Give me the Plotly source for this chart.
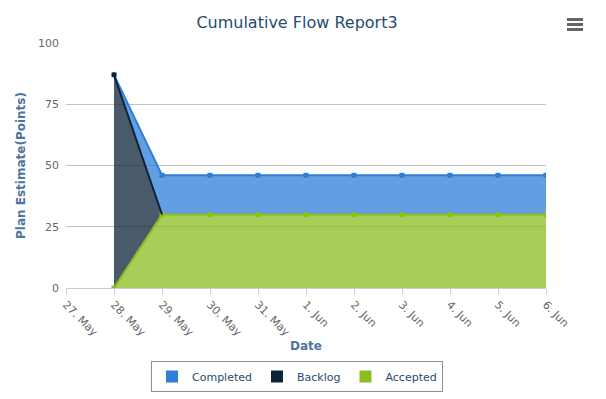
import numpy as np
import plotly.graph_objects as go

categories = ["27. May", "28. May", "29. May", "30. May", "31. May", "1. Jun",
              "2. Jun", "3. Jun", "4. Jun", "5. Jun", "6. Jun"]
accepted = [None, 0, 30, 30, 30, 30, 30, 30, 30, 30, 30]
backlog = [None, 87, 0, None, None, None, None, None, None, None, None]
completed = [None, 0, 16, 16, 16, 16, 16, 16, 16, 16, 16]
y_ticks = [0, 25, 50, 75, 100]

x = np.arange(len(categories))
valid = np.array([a is not None for a in accepted])
acc = np.array([np.nan if v is None else v for v in accepted], dtype=float)
blg = np.array([0 if v is None else v for v in backlog], dtype=float)
cmp_ = np.array([0 if v is None else v for v in completed], dtype=float)
mid = np.where(valid, acc + blg, np.nan)
top = np.where(valid, mid + cmp_, np.nan)
blg_line = np.array([np.nan if v is None else v for v in backlog], dtype=float) + acc

C_BLUE = "#2f7ed8"
C_DARK = "#0d233a"
C_GREEN = "#8bbc21"
FONT = "DejaVu Sans"

# page body has an 8px margin: figure is sized/positioned to compensate
W, H = 598, 391
OFF = 8

fig = go.Figure()
# fills
fig.add_trace(go.Scatter(x=x, y=acc, fill="tozeroy", mode="none",
                         fillcolor="rgba(139,188,33,0.75)", showlegend=False, hoverinfo="skip"))
fig.add_trace(go.Scatter(x=x, y=mid, fill="tonexty", mode="none",
                         fillcolor="rgba(13,35,58,0.75)", showlegend=False, hoverinfo="skip"))
fig.add_trace(go.Scatter(x=x, y=top, fill="tonexty", mode="none",
                         fillcolor="rgba(47,126,216,0.75)", showlegend=False, hoverinfo="skip"))
# lines
fig.add_trace(go.Scatter(x=x, y=top, mode="lines+markers", line=dict(color=C_BLUE, width=2),
                         marker=dict(color=C_BLUE, size=5, symbol="square"), showlegend=False))
fig.add_trace(go.Scatter(x=x, y=acc, mode="lines+markers", line=dict(color=C_GREEN, width=2),
                         marker=dict(color=C_GREEN, size=5, symbol="square"), showlegend=False))
fig.add_trace(go.Scatter(x=x, y=blg_line, mode="lines", line=dict(color=C_DARK, width=2),
                         showlegend=False))
fig.add_trace(go.Scatter(x=x[1:2], y=mid[1:2], mode="markers",
                         marker=dict(color=C_DARK, size=5, symbol="circle"), showlegend=False))
# legend entries
for name, col in [("Completed", C_BLUE), ("Backlog", C_DARK), ("Accepted", C_GREEN)]:
    fig.add_trace(go.Scatter(x=[None], y=[None], mode="markers", name=name,
                             marker=dict(color=col, size=15, symbol="square")))

# export menu icon
shapes = []
for yy in [18, 23, 28]:
    shapes.append(dict(type="rect", xref="paper", yref="paper",
                       x0=(567 - 66) / 480, x1=(583 - 66) / 480,
                       y0=(288 - yy) / 245 - 3 / 245, y1=(288 - yy) / 245,
                       fillcolor="#666666", line=dict(width=0), layer="above"))

fig.update_layout(
    width=W, height=H,
    margin=dict(l=66 - OFF, r=W - (546 - OFF), t=43 - OFF, b=H - (288 - OFF), autoexpand=False),
    paper_bgcolor="white", plot_bgcolor="white",
    font=dict(family=FONT, size=11, color="#666666"),
    title=dict(text="Cumulative Flow Report3", x=(297 - OFF) / W, xref="container", xanchor="center",
               y=1 - (22 - OFF) / H, yref="container", yanchor="middle",
               font=dict(family=FONT, size=16, color="#274b6d")),
    legend=dict(orientation="h", xref="container", x=(297 - OFF) / W, xanchor="center",
                yref="container", y=1 - (361 - OFF) / H, yanchor="top",
                bordercolor="#909090", borderwidth=1, bgcolor="white",
                font=dict(family=FONT, size=11, color="#274b6d"),
                itemsizing="constant", itemwidth=30, traceorder="normal"),
    shapes=shapes,
    showlegend=True,
)
fig.update_xaxes(range=[0, len(categories) - 1], tickmode="array", tickvals=x,
                 ticktext=categories, tickangle=45, showgrid=False, zeroline=False,
                 showline=True, linecolor="#c0d0e0", linewidth=1,
                 ticks="outside", ticklen=5, tickcolor="#c0d0e0", automargin=False,
                 tickfont=dict(family=FONT, size=11, color="#666666"),
                 title=dict(text="<b>Date</b>", font=dict(family=FONT, size=12, color="#4d759e"),
                            standoff=0))
fig.update_yaxes(range=[0, 100], tickmode="array", tickvals=y_ticks, showgrid=True,
                 gridcolor="#c0c0c0", gridwidth=1, zeroline=False, showline=False,
                 ticks="", tickfont=dict(family=FONT, size=11, color="#666666"),
                 ticklabelstandoff=6, automargin=False,
                 title=dict(text="<b>Plan Estimate(Points)</b>",
                            font=dict(family=FONT, size=12, color="#4d759e"), standoff=9))

fig.write_html("out.html")
